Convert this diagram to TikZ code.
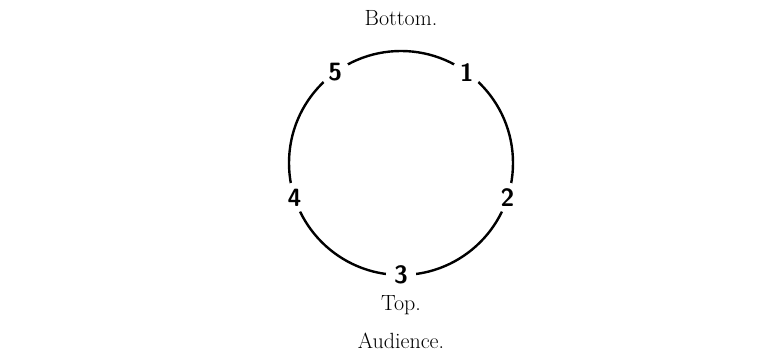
\documentclass[tikz,border=0pt]{standalone}
\usetikzlibrary{positioning}

\begin{document}
\begin{tikzpicture}[x=1pt,y=1pt,
  numlabel/.style={circle, fill=white, inner sep=0pt, minimum size=30pt,
    font=\fontsize{25}{25}\sffamily\bfseries},
  caption/.style={font=\fontsize{22}{22}\selectfont}]
  \useasboundingbox (0,0) rectangle (768,358);

  % 円
  \coordinate (c) at (401,195);
  \draw[line width=2.4pt] (c) circle[radius=112];

  % 番号
  \node[numlabel] (n1) at ([shift={(54:112)}]c) {1};
  \node[numlabel] (n2) at ([shift={(-18:112)}]c) {2};
  \node[numlabel] (n3) at ([shift={(-90:112)}]c) {3};
  \node[numlabel] (n4) at ([shift={(198:112)}]c) {4};
  \node[numlabel] (n5) at ([shift={(126:112)}]c) {5};

  % 見出し
  \node[caption] (bottom) at (401,340) {Bottom.};
  \node[caption] (top) at (401,53) {Top.};
  \node[caption] (audience) at (401,17) {Audience.};
\end{tikzpicture}
\end{document}
